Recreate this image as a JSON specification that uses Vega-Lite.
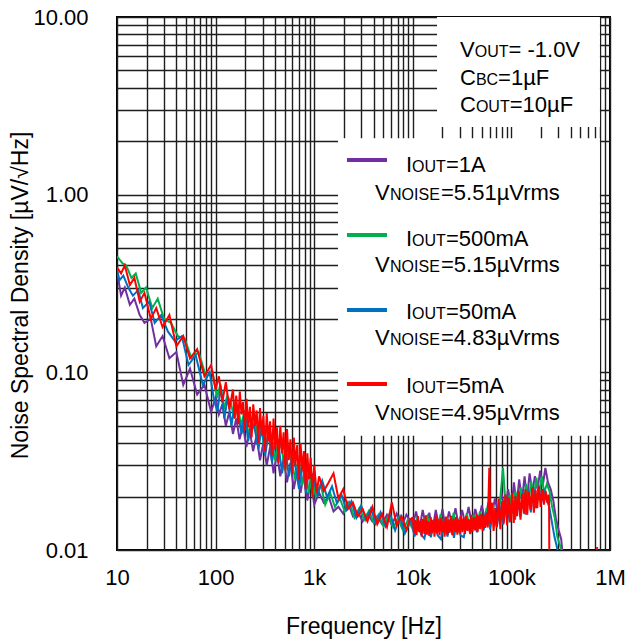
{
"$schema": "https://vega.github.io/schema/vega-lite/v6.json",
"width": 493,
"height": 533,
"autosize": {"type": "none"},
"padding": {"left": 117, "top": 17, "right": 26, "bottom": 91},
"background": "white",
"config": {"font": "Liberation Sans", "view": {"stroke": "#000", "strokeWidth": 2}},
"datasets": {
"curves": [
{"load":"1A","f":10,"v":0.37},{"load":"1A","f":11,"v":0.27},{"load":"1A","f":12,"v":0.30},{"load":"1A","f":13.5,"v":0.24},{"load":"1A","f":15,"v":0.26},{"load":"1A","f":17,"v":0.21},{"load":"1A","f":19,"v":0.19},{"load":"1A","f":22,"v":0.20},{"load":"1A","f":25,"v":0.14},{"load":"1A","f":29,"v":0.16},{"load":"1A","f":34,"v":0.12},{"load":"1A","f":40,"v":0.13},{"load":"1A","f":47,"v":0.085},{"load":"1A","f":55,"v":0.105},{"load":"1A","f":65,"v":0.075},{"load":"1A","f":77,"v":0.085},{"load":"1A","f":90,"v":0.06},
{"load":"1A","f":100,"v":0.072},{"load":"1A","f":108,"v":0.058},{"load":"1A","f":117,"v":0.066},{"load":"1A","f":127,"v":0.05},{"load":"1A","f":138,"v":0.06},{"load":"1A","f":150,"v":0.045},{"load":"1A","f":162,"v":0.055},{"load":"1A","f":175,"v":0.042},{"load":"1A","f":190,"v":0.05},{"load":"1A","f":205,"v":0.038},{"load":"1A","f":222,"v":0.047},{"load":"1A","f":240,"v":0.036},{"load":"1A","f":260,"v":0.044},{"load":"1A","f":282,"v":0.032},{"load":"1A","f":305,"v":0.04},{"load":"1A","f":330,"v":0.03},{"load":"1A","f":357,"v":0.038},{"load":"1A","f":387,"v":0.027},{"load":"1A","f":419,"v":0.035},{"load":"1A","f":453,"v":0.026},{"load":"1A","f":490,"v":0.033},{"load":"1A","f":530,"v":0.024},{"load":"1A","f":574,"v":0.031},{"load":"1A","f":621,"v":0.022},{"load":"1A","f":672,"v":0.028},{"load":"1A","f":727,"v":0.021},{"load":"1A","f":787,"v":0.027},{"load":"1A","f":852,"v":0.019},{"load":"1A","f":922,"v":0.025},
{"load":"1A","f":1000,"v":0.018},{"load":"1A","f":1120,"v":0.021},{"load":"1A","f":1250,"v":0.0185},{"load":"1A","f":1400,"v":0.02},{"load":"1A","f":1570,"v":0.0165},{"load":"1A","f":1760,"v":0.0175},{"load":"1A","f":1970,"v":0.016},{"load":"1A","f":2200,"v":0.0185},{"load":"1A","f":2470,"v":0.0155},{"load":"1A","f":2770,"v":0.0165},{"load":"1A","f":3100,"v":0.0145},{"load":"1A","f":3470,"v":0.016},{"load":"1A","f":3890,"v":0.0145},{"load":"1A","f":4360,"v":0.0155},{"load":"1A","f":4880,"v":0.014},{"load":"1A","f":5470,"v":0.0158},{"load":"1A","f":6130,"v":0.0138},{"load":"1A","f":6860,"v":0.016},{"load":"1A","f":7690,"v":0.0135},{"load":"1A","f":8610,"v":0.0158},
{"load":"1A","f":10000,"v":0.0138},{"load":"1A","f":10800,"v":0.0165},{"load":"1A","f":11700,"v":0.0132},{"load":"1A","f":12600,"v":0.0168},{"load":"1A","f":13600,"v":0.0135},{"load":"1A","f":14700,"v":0.0162},{"load":"1A","f":15800,"v":0.0128},{"load":"1A","f":17100,"v":0.0168},{"load":"1A","f":18500,"v":0.0135},{"load":"1A","f":20000,"v":0.017},{"load":"1A","f":21500,"v":0.0132},{"load":"1A","f":23300,"v":0.0165},{"load":"1A","f":25100,"v":0.0138},{"load":"1A","f":27100,"v":0.0172},{"load":"1A","f":29300,"v":0.0135},{"load":"1A","f":31600,"v":0.0168},{"load":"1A","f":34100,"v":0.014},{"load":"1A","f":36800,"v":0.0175},{"load":"1A","f":39800,"v":0.0138},{"load":"1A","f":43000,"v":0.017},{"load":"1A","f":46400,"v":0.0145},{"load":"1A","f":50100,"v":0.0178},{"load":"1A","f":54100,"v":0.0148},{"load":"1A","f":58400,"v":0.0185},{"load":"1A","f":63100,"v":0.0155},{"load":"1A","f":68100,"v":0.0195},{"load":"1A","f":73600,"v":0.016},{"load":"1A","f":79400,"v":0.021},{"load":"1A","f":85800,"v":0.0165},{"load":"1A","f":92600,"v":0.022},
{"load":"1A","f":100000,"v":0.017},{"load":"1A","f":106000,"v":0.024},{"load":"1A","f":113000,"v":0.018},{"load":"1A","f":120000,"v":0.025},{"load":"1A","f":128000,"v":0.019},{"load":"1A","f":136000,"v":0.026},{"load":"1A","f":144000,"v":0.0195},{"load":"1A","f":153000,"v":0.027},{"load":"1A","f":163000,"v":0.021},{"load":"1A","f":173000,"v":0.026},{"load":"1A","f":184000,"v":0.022},{"load":"1A","f":196000,"v":0.028},{"load":"1A","f":208000,"v":0.023},{"load":"1A","f":221000,"v":0.029},{"load":"1A","f":235000,"v":0.024},{"load":"1A","f":250000,"v":0.022},{"load":"1A","f":266000,"v":0.019},{"load":"1A","f":283000,"v":0.015},{"load":"1A","f":301000,"v":0.013},{"load":"1A","f":320000,"v":0.0115},{"load":"1A","f":340000,"v":0.008},

{"load":"500mA","f":10,"v":0.45},{"load":"500mA","f":11.4,"v":0.41},{"load":"500mA","f":12.4,"v":0.40},{"load":"500mA","f":14,"v":0.34},{"load":"500mA","f":15.5,"v":0.36},{"load":"500mA","f":17.6,"v":0.28},{"load":"500mA","f":19.7,"v":0.30},{"load":"500mA","f":22.8,"v":0.23},{"load":"500mA","f":25.9,"v":0.26},{"load":"500mA","f":30,"v":0.20},{"load":"500mA","f":35.2,"v":0.19},{"load":"500mA","f":41.4,"v":0.16},{"load":"500mA","f":48.6,"v":0.155},{"load":"500mA","f":56.9,"v":0.12},{"load":"500mA","f":67.3,"v":0.13},{"load":"500mA","f":79.7,"v":0.095},{"load":"500mA","f":93.2,"v":0.10},
{"load":"500mA","f":103.5,"v":0.072},{"load":"500mA","f":111.8,"v":0.086},{"load":"500mA","f":121.1,"v":0.062},{"load":"500mA","f":131.4,"v":0.074},{"load":"500mA","f":142.8,"v":0.067},{"load":"500mA","f":155.3,"v":0.055},{"load":"500mA","f":167.7,"v":0.066},{"load":"500mA","f":181.1,"v":0.05},{"load":"500mA","f":196.7,"v":0.061},{"load":"500mA","f":212.2,"v":0.045},{"load":"500mA","f":229.8,"v":0.052},{"load":"500mA","f":248.4,"v":0.056},{"load":"500mA","f":269.1,"v":0.04},{"load":"500mA","f":291.9,"v":0.049},{"load":"500mA","f":315.7,"v":0.035},{"load":"500mA","f":341.6,"v":0.046},{"load":"500mA","f":369.5,"v":0.041},{"load":"500mA","f":400.5,"v":0.032},{"load":"500mA","f":433.7,"v":0.042},{"load":"500mA","f":468.9,"v":0.037},{"load":"500mA","f":507.2,"v":0.028},{"load":"500mA","f":548.6,"v":0.036},{"load":"500mA","f":594.1,"v":0.031},{"load":"500mA","f":642.7,"v":0.025},{"load":"500mA","f":695.5,"v":0.033},{"load":"500mA","f":752.4,"v":0.023},{"load":"500mA","f":814.5,"v":0.029},{"load":"500mA","f":881.8,"v":0.021},{"load":"500mA","f":954.3,"v":0.027},
{"load":"500mA","f":1035,"v":0.02},{"load":"500mA","f":1159,"v":0.0235},{"load":"500mA","f":1294,"v":0.018},{"load":"500mA","f":1449,"v":0.021},{"load":"500mA","f":1625,"v":0.0175},{"load":"500mA","f":1822,"v":0.0195},{"load":"500mA","f":2039,"v":0.0165},{"load":"500mA","f":2277,"v":0.0185},{"load":"500mA","f":2556,"v":0.0152},{"load":"500mA","f":2867,"v":0.0172},{"load":"500mA","f":3209,"v":0.0148},{"load":"500mA","f":3591,"v":0.0166},{"load":"500mA","f":4026,"v":0.0142},{"load":"500mA","f":4513,"v":0.0158},{"load":"500mA","f":5051,"v":0.0136},{"load":"500mA","f":5661,"v":0.0156},{"load":"500mA","f":6345,"v":0.0134},{"load":"500mA","f":7100,"v":0.0152},{"load":"500mA","f":7959,"v":0.0129},{"load":"500mA","f":8911,"v":0.0148},
{"load":"500mA","f":10350,"v":0.0126},{"load":"500mA","f":11180,"v":0.0154},{"load":"500mA","f":12110,"v":0.0124},{"load":"500mA","f":13040,"v":0.0148},{"load":"500mA","f":14080,"v":0.0156},{"load":"500mA","f":15210,"v":0.0121},{"load":"500mA","f":16350,"v":0.0147},{"load":"500mA","f":17700,"v":0.0127},{"load":"500mA","f":19150,"v":0.0159},{"load":"500mA","f":20700,"v":0.0125},{"load":"500mA","f":22250,"v":0.0152},{"load":"500mA","f":24120,"v":0.0131},{"load":"500mA","f":25980,"v":0.0162},{"load":"500mA","f":28050,"v":0.0126},{"load":"500mA","f":30330,"v":0.0154},{"load":"500mA","f":32710,"v":0.0133},{"load":"500mA","f":35290,"v":0.0161},{"load":"500mA","f":38090,"v":0.0129},{"load":"500mA","f":41190,"v":0.0158},{"load":"500mA","f":44510,"v":0.0136},{"load":"500mA","f":48020,"v":0.0165},{"load":"500mA","f":51850,"v":0.0132},{"load":"500mA","f":55990,"v":0.0172},{"load":"500mA","f":60440,"v":0.0139},{"load":"500mA","f":65310,"v":0.0178},{"load":"500mA","f":70480,"v":0.0146},{"load":"500mA","f":76180,"v":0.0182},{"load":"500mA","f":82180,"v":0.029},{"load":"500mA","f":88800,"v":0.0158},{"load":"500mA","f":95840,"v":0.0205},
{"load":"500mA","f":103500,"v":0.016},{"load":"500mA","f":109700,"v":0.0215},{"load":"500mA","f":117000,"v":0.0168},{"load":"500mA","f":124200,"v":0.0225},{"load":"500mA","f":132500,"v":0.0172},{"load":"500mA","f":140800,"v":0.0235},{"load":"500mA","f":149000,"v":0.0182},{"load":"500mA","f":158400,"v":0.0245},{"load":"500mA","f":168700,"v":0.0192},{"load":"500mA","f":179100,"v":0.0255},{"load":"500mA","f":190400,"v":0.0205},{"load":"500mA","f":202900,"v":0.026},{"load":"500mA","f":215300,"v":0.021},{"load":"500mA","f":228700,"v":0.0235},{"load":"500mA","f":243200,"v":0.0215},{"load":"500mA","f":258800,"v":0.0175},{"load":"500mA","f":275300,"v":0.0152},{"load":"500mA","f":292900,"v":0.0118},{"load":"500mA","f":311500,"v":0.0106},{"load":"500mA","f":331200,"v":0.0095},{"load":"500mA","f":345000,"v":0.008},

{"load":"50mA","f":10,"v":0.38},{"load":"50mA","f":10.6,"v":0.33},{"load":"50mA","f":11.6,"v":0.35},{"load":"50mA","f":13,"v":0.30},{"load":"50mA","f":14.5,"v":0.27},{"load":"50mA","f":16.4,"v":0.29},{"load":"50mA","f":18.3,"v":0.23},{"load":"50mA","f":21.2,"v":0.25},{"load":"50mA","f":24.1,"v":0.19},{"load":"50mA","f":28,"v":0.21},{"load":"50mA","f":32.8,"v":0.17},{"load":"50mA","f":38.6,"v":0.15},{"load":"50mA","f":45.4,"v":0.16},{"load":"50mA","f":53.1,"v":0.11},{"load":"50mA","f":62.7,"v":0.125},{"load":"50mA","f":74.3,"v":0.085},{"load":"50mA","f":86.9,"v":0.10},
{"load":"50mA","f":96.5,"v":0.07},{"load":"50mA","f":104.2,"v":0.06},{"load":"50mA","f":112.9,"v":0.083},{"load":"50mA","f":122.6,"v":0.055},{"load":"50mA","f":133.2,"v":0.073},{"load":"50mA","f":144.8,"v":0.05},{"load":"50mA","f":156.3,"v":0.066},{"load":"50mA","f":168.9,"v":0.058},{"load":"50mA","f":183.4,"v":0.045},{"load":"50mA","f":197.8,"v":0.06},{"load":"50mA","f":214.2,"v":0.041},{"load":"50mA","f":231.6,"v":0.054},{"load":"50mA","f":250.9,"v":0.047},{"load":"50mA","f":272.1,"v":0.037},{"load":"50mA","f":294.3,"v":0.05},{"load":"50mA","f":318.5,"v":0.034},{"load":"50mA","f":344.5,"v":0.046},{"load":"50mA","f":373.5,"v":0.031},{"load":"50mA","f":404.3,"v":0.043},{"load":"50mA","f":437.1,"v":0.038},{"load":"50mA","f":472.9,"v":0.027},{"load":"50mA","f":511.5,"v":0.037},{"load":"50mA","f":553.9,"v":0.026},{"load":"50mA","f":599.3,"v":0.034},{"load":"50mA","f":648.5,"v":0.029},{"load":"50mA","f":701.6,"v":0.022},{"load":"50mA","f":759.5,"v":0.031},{"load":"50mA","f":822.2,"v":0.021},{"load":"50mA","f":889.7,"v":0.029},
{"load":"50mA","f":965,"v":0.026},{"load":"50mA","f":1081,"v":0.0205},{"load":"50mA","f":1206,"v":0.0245},{"load":"50mA","f":1351,"v":0.0198},{"load":"50mA","f":1515,"v":0.0228},{"load":"50mA","f":1698,"v":0.0184},{"load":"50mA","f":1901,"v":0.0203},{"load":"50mA","f":2123,"v":0.0168},{"load":"50mA","f":2384,"v":0.0188},{"load":"50mA","f":2673,"v":0.0152},{"load":"50mA","f":2992,"v":0.0178},{"load":"50mA","f":3349,"v":0.0148},{"load":"50mA","f":3754,"v":0.0171},{"load":"50mA","f":4207,"v":0.0141},{"load":"50mA","f":4709,"v":0.0163},{"load":"50mA","f":5279,"v":0.0136},{"load":"50mA","f":5915,"v":0.0159},{"load":"50mA","f":6620,"v":0.0129},{"load":"50mA","f":7421,"v":0.0154},{"load":"50mA","f":8309,"v":0.0124},
{"load":"50mA","f":9650,"v":0.0148},{"load":"50mA","f":10420,"v":0.0119},{"load":"50mA","f":11290,"v":0.0146},{"load":"50mA","f":12160,"v":0.0122},{"load":"50mA","f":13120,"v":0.0116},{"load":"50mA","f":14190,"v":0.0144},{"load":"50mA","f":15250,"v":0.0118},{"load":"50mA","f":16500,"v":0.0147},{"load":"50mA","f":17850,"v":0.0121},{"load":"50mA","f":19300,"v":0.0115},{"load":"50mA","f":20750,"v":0.0146},{"load":"50mA","f":22480,"v":0.0119},{"load":"50mA","f":24220,"v":0.0148},{"load":"50mA","f":26150,"v":0.0117},{"load":"50mA","f":28270,"v":0.0151},{"load":"50mA","f":30490,"v":0.0121},{"load":"50mA","f":32910,"v":0.0118},{"load":"50mA","f":35510,"v":0.0149},{"load":"50mA","f":38410,"v":0.0123},{"load":"50mA","f":41500,"v":0.0153},{"load":"50mA","f":44780,"v":0.0126},{"load":"50mA","f":48350,"v":0.0158},{"load":"50mA","f":52210,"v":0.0129},{"load":"50mA","f":56360,"v":0.0163},{"load":"50mA","f":60890,"v":0.0131},{"load":"50mA","f":65720,"v":0.0168},{"load":"50mA","f":71020,"v":0.0134},{"load":"50mA","f":76620,"v":0.0176},{"load":"50mA","f":82800,"v":0.0139},{"load":"50mA","f":89360,"v":0.0184},
{"load":"50mA","f":96500,"v":0.0143},{"load":"50mA","f":102300,"v":0.0192},{"load":"50mA","f":109000,"v":0.0148},{"load":"50mA","f":115800,"v":0.0201},{"load":"50mA","f":123500,"v":0.0153},{"load":"50mA","f":131200,"v":0.0212},{"load":"50mA","f":139000,"v":0.0158},{"load":"50mA","f":147600,"v":0.0218},{"load":"50mA","f":157300,"v":0.0163},{"load":"50mA","f":166900,"v":0.0226},{"load":"50mA","f":177600,"v":0.0172},{"load":"50mA","f":189100,"v":0.023},{"load":"50mA","f":200700,"v":0.0185},{"load":"50mA","f":213300,"v":0.0215},{"load":"50mA","f":226800,"v":0.0192},{"load":"50mA","f":241300,"v":0.0176},{"load":"50mA","f":256700,"v":0.0145},{"load":"50mA","f":273100,"v":0.0119},{"load":"50mA","f":290500,"v":0.0103},{"load":"50mA","f":308800,"v":0.0088},{"load":"50mA","f":328100,"v":0.007},

{"load":"5mA","f":10,"v":0.39},{"load":"5mA","f":11,"v":0.36},{"load":"5mA","f":12,"v":0.40},{"load":"5mA","f":13.5,"v":0.31},{"load":"5mA","f":15,"v":0.34},{"load":"5mA","f":17,"v":0.25},{"load":"5mA","f":19,"v":0.28},{"load":"5mA","f":22,"v":0.20},{"load":"5mA","f":25,"v":0.23},{"load":"5mA","f":29,"v":0.18},{"load":"5mA","f":34,"v":0.21},{"load":"5mA","f":40,"v":0.14},{"load":"5mA","f":47,"v":0.16},{"load":"5mA","f":55,"v":0.12},{"load":"5mA","f":65,"v":0.135},{"load":"5mA","f":77,"v":0.095},{"load":"5mA","f":90,"v":0.11},
{"load":"5mA","f":100,"v":0.08},{"load":"5mA","f":108,"v":0.095},{"load":"5mA","f":117,"v":0.068},{"load":"5mA","f":127,"v":0.088},{"load":"5mA","f":138,"v":0.062},
{"load":"5mA","f":150,"v":0.08},{"load":"5mA","f":156,"v":0.055},{"load":"5mA","f":162,"v":0.074},{"load":"5mA","f":169,"v":0.051},{"load":"5mA","f":176,"v":0.078},{"load":"5mA","f":183,"v":0.058},{"load":"5mA","f":190,"v":0.068},{"load":"5mA","f":198,"v":0.047},{"load":"5mA","f":206,"v":0.071},{"load":"5mA","f":214,"v":0.049},{"load":"5mA","f":223,"v":0.064},{"load":"5mA","f":232,"v":0.043},{"load":"5mA","f":241,"v":0.066},{"load":"5mA","f":251,"v":0.05},{"load":"5mA","f":261,"v":0.061},{"load":"5mA","f":271,"v":0.04},{"load":"5mA","f":282,"v":0.063},{"load":"5mA","f":294,"v":0.044},{"load":"5mA","f":305,"v":0.057},{"load":"5mA","f":318,"v":0.036},{"load":"5mA","f":330,"v":0.059},{"load":"5mA","f":344,"v":0.041},{"load":"5mA","f":357,"v":0.053},{"load":"5mA","f":372,"v":0.034},{"load":"5mA","f":387,"v":0.055},{"load":"5mA","f":402,"v":0.037},{"load":"5mA","f":419,"v":0.049},{"load":"5mA","f":435,"v":0.031},{"load":"5mA","f":453,"v":0.05},{"load":"5mA","f":471,"v":0.035},{"load":"5mA","f":490,"v":0.046},{"load":"5mA","f":510,"v":0.028},{"load":"5mA","f":530,"v":0.048},{"load":"5mA","f":551,"v":0.032},{"load":"5mA","f":574,"v":0.042},{"load":"5mA","f":597,"v":0.027},{"load":"5mA","f":621,"v":0.043},{"load":"5mA","f":645,"v":0.03},{"load":"5mA","f":672,"v":0.039},{"load":"5mA","f":698,"v":0.025},{"load":"5mA","f":727,"v":0.04},{"load":"5mA","f":756,"v":0.028},{"load":"5mA","f":787,"v":0.036},{"load":"5mA","f":818,"v":0.022},{"load":"5mA","f":852,"v":0.035},{"load":"5mA","f":885,"v":0.025},{"load":"5mA","f":922,"v":0.033},{"load":"5mA","f":958,"v":0.02},
{"load":"5mA","f":1000,"v":0.03},{"load":"5mA","f":1060,"v":0.021},{"load":"5mA","f":1120,"v":0.026},{"load":"5mA","f":1250,"v":0.0215},{"load":"5mA","f":1400,"v":0.024},{"load":"5mA","f":1570,"v":0.027},{"load":"5mA","f":1760,"v":0.0195},{"load":"5mA","f":1970,"v":0.022},{"load":"5mA","f":2200,"v":0.017},{"load":"5mA","f":2470,"v":0.0185},{"load":"5mA","f":2770,"v":0.0155},{"load":"5mA","f":3100,"v":0.017},{"load":"5mA","f":3470,"v":0.0145},{"load":"5mA","f":3890,"v":0.0175},{"load":"5mA","f":4360,"v":0.014},{"load":"5mA","f":4880,"v":0.016},{"load":"5mA","f":5470,"v":0.0135},{"load":"5mA","f":6130,"v":0.0185},{"load":"5mA","f":6860,"v":0.0138},{"load":"5mA","f":7690,"v":0.0155},{"load":"5mA","f":8610,"v":0.013},{"load":"5mA","f":9300,"v":0.0148},
{"load":"5mA","f":10000,"v":0.0152},{"load":"5mA","f":10300,"v":0.0124},{"load":"5mA","f":10600,"v":0.0148},{"load":"5mA","f":10900,"v":0.0121},{"load":"5mA","f":11300,"v":0.0155},{"load":"5mA","f":11600,"v":0.0126},{"load":"5mA","f":12000,"v":0.0146},{"load":"5mA","f":12300,"v":0.0119},{"load":"5mA","f":12700,"v":0.015},{"load":"5mA","f":13100,"v":0.0123},{"load":"5mA","f":13500,"v":0.0157},{"load":"5mA","f":13900,"v":0.0122},{"load":"5mA","f":14300,"v":0.0145},{"load":"5mA","f":14700,"v":0.012},{"load":"5mA","f":15200,"v":0.0153},{"load":"5mA","f":15600,"v":0.0125},{"load":"5mA","f":16100,"v":0.0148},{"load":"5mA","f":16600,"v":0.0119},{"load":"5mA","f":17100,"v":0.0156},{"load":"5mA","f":17600,"v":0.0124},{"load":"5mA","f":18100,"v":0.0149},{"load":"5mA","f":18700,"v":0.0121},{"load":"5mA","f":19200,"v":0.0152},{"load":"5mA","f":19800,"v":0.0126},{"load":"5mA","f":20400,"v":0.0147},{"load":"5mA","f":21000,"v":0.0119},{"load":"5mA","f":21700,"v":0.0154},{"load":"5mA","f":22300,"v":0.0122},{"load":"5mA","f":23000,"v":0.0149},{"load":"5mA","f":23700,"v":0.0125},{"load":"5mA","f":24400,"v":0.0156},{"load":"5mA","f":25100,"v":0.0121},{"load":"5mA","f":25900,"v":0.015},{"load":"5mA","f":26700,"v":0.0127},{"load":"5mA","f":27500,"v":0.0153},{"load":"5mA","f":28300,"v":0.0122},{"load":"5mA","f":29100,"v":0.0148},{"load":"5mA","f":30000,"v":0.0124},{"load":"5mA","f":30900,"v":0.0157},{"load":"5mA","f":31800,"v":0.0126},{"load":"5mA","f":32800,"v":0.0151},{"load":"5mA","f":33800,"v":0.0123},{"load":"5mA","f":34800,"v":0.0155},{"load":"5mA","f":35800,"v":0.0128},{"load":"5mA","f":36900,"v":0.0149},{"load":"5mA","f":38000,"v":0.0124},{"load":"5mA","f":39100,"v":0.0158},{"load":"5mA","f":40300,"v":0.0127},{"load":"5mA","f":41500,"v":0.0152},{"load":"5mA","f":42800,"v":0.0129},{"load":"5mA","f":44100,"v":0.0159},{"load":"5mA","f":45400,"v":0.0126},{"load":"5mA","f":46800,"v":0.0155},{"load":"5mA","f":48200,"v":0.0131},{"load":"5mA","f":49600,"v":0.016},{"load":"5mA","f":51100,"v":0.0128},{"load":"5mA","f":52600,"v":0.0157},{"load":"5mA","f":54200,"v":0.0133},{"load":"5mA","f":55800,"v":0.0162},{"load":"5mA","f":57500,"v":0.0134},{"load":"5mA","f":59700,"v":0.029},
{"load":"5mA","f":61000,"v":0.014},{"load":"5mA","f":63400,"v":0.0185},{"load":"5mA","f":66000,"v":0.0128},{"load":"5mA","f":68600,"v":0.0172},{"load":"5mA","f":71400,"v":0.0135},{"load":"5mA","f":74200,"v":0.0195},{"load":"5mA","f":77200,"v":0.0131},{"load":"5mA","f":80300,"v":0.0188},{"load":"5mA","f":83500,"v":0.0142},{"load":"5mA","f":86800,"v":0.0205},{"load":"5mA","f":90300,"v":0.0138},{"load":"5mA","f":93900,"v":0.0198},{"load":"5mA","f":97700,"v":0.0145},{"load":"5mA","f":101600,"v":0.021},{"load":"5mA","f":105600,"v":0.0142},{"load":"5mA","f":109900,"v":0.0202},{"load":"5mA","f":114300,"v":0.0155},{"load":"5mA","f":118800,"v":0.0215},{"load":"5mA","f":123600,"v":0.0148},{"load":"5mA","f":128500,"v":0.0208},{"load":"5mA","f":133700,"v":0.016},{"load":"5mA","f":139000,"v":0.022},{"load":"5mA","f":144600,"v":0.0158},{"load":"5mA","f":150400,"v":0.0212},{"load":"5mA","f":156400,"v":0.0168},{"load":"5mA","f":162600,"v":0.0225},{"load":"5mA","f":169100,"v":0.0162},{"load":"5mA","f":175900,"v":0.0218},{"load":"5mA","f":182900,"v":0.0172},{"load":"5mA","f":190200,"v":0.0228},{"load":"5mA","f":197800,"v":0.0175},{"load":"5mA","f":205700,"v":0.022},{"load":"5mA","f":214000,"v":0.018},{"load":"5mA","f":222500,"v":0.0215},{"load":"5mA","f":231400,"v":0.0185},{"load":"5mA","f":238000,"v":0.0205},{"load":"5mA","f":241000,"v":0.019},{"load":"5mA","f":243000,"v":0.007},{"load":"5mA","f":735000,"v":0.007},{"load":"5mA","f":740000,"v":0.0104},{"load":"5mA","f":745000,"v":0.007}
],
"boxes": [
{"f":17600,"f2":790000,"v":2.40,"v2":10},
{"f":1743,"f2":790000,"v":0.0439,"v2":2.08}
],
"swatches": [
{"load":"1A","f":2151,"f2":5474,"v":1.568},
{"load":"500mA","f":2151,"f2":5474,"v":0.5933},
{"load":"50mA","f":2151,"f2":5474,"v":0.2245},
{"load":"5mA","f":2151,"f2":5474,"v":0.086}
],
"mainText": [
{"t":"V","f":30110,"v":5.955},{"t":"= -1.0V","f":93460,"v":5.955},
{"t":"C","f":30110,"v":4.142},{"t":"=1µF","f":73300,"v":4.142},
{"t":"C","f":30110,"v":2.921},{"t":"=10µF","f":96120,"v":2.921},
{"t":"I","f":8531,"v":1.342},{"t":"=1A","f":21660,"v":1.342},
{"t":"V","f":4137,"v":0.9337},{"t":"=5.51µVrms","f":19320,"v":0.9337},
{"t":"I","f":8531,"v":0.5144},{"t":"=500mA","f":21660,"v":0.5144},
{"t":"V","f":4137,"v":0.3673},{"t":"=5.15µVrms","f":19320,"v":0.3673},
{"t":"I","f":8531,"v":0.1998},{"t":"=50mA","f":21660,"v":0.1998},
{"t":"V","f":4137,"v":0.1426},{"t":"=4.83µVrms","f":19320,"v":0.1426},
{"t":"I","f":8531,"v":0.07657},{"t":"=5mA","f":21660,"v":0.07657},
{"t":"V","f":4137,"v":0.05397},{"t":"=4.95µVrms","f":19320,"v":0.05397}
],
"subText": [
{"t":"OUT","f":42440,"v":5.955},
{"t":"BC","f":43650,"v":4.142},
{"t":"OUT","f":43650,"v":2.921},
{"t":"OUT","f":9838,"v":1.342},
{"t":"NOISE","f":5874,"v":0.9337},
{"t":"OUT","f":9838,"v":0.5144},
{"t":"NOISE","f":5874,"v":0.3673},
{"t":"OUT","f":9838,"v":0.1998},
{"t":"NOISE","f":5874,"v":0.1426},
{"t":"OUT","f":9838,"v":0.07657},
{"t":"NOISE","f":5874,"v":0.05397}
]
},
"layer": [
{
"data": {"name": "curves"},
"mark": {"type": "line", "strokeWidth": 2, "clip": true},
"encoding": {
"x": {"field": "f", "type": "quantitative",
 "scale": {"type": "log", "domain": [10, 1000000], "nice": false},
 "axis": {"orient": "bottom", "values": [10,20,30,40,50,60,70,80,90,100,200,300,400,500,600,700,800,900,1000,2000,3000,4000,5000,6000,7000,8000,9000,10000,20000,30000,40000,50000,60000,70000,80000,90000,100000,200000,300000,400000,500000,600000,700000,800000,900000,1000000],
  "labelExpr": "datum.value==10?'10':datum.value==100?'100':datum.value==1000?'1k':datum.value==10000?'10k':datum.value==100000?'100k':datum.value==1000000?'1M':''",
  "grid": true, "gridColor": "#1e1e1e", "gridWidth": 1.4, "ticks": false, "tickSize": 0, "domain": false,
  "labelFontSize": 22, "labelColor": "#000", "labelPadding": 17, "labelFlush": false, "labelOverlap": false, "labelBound": false,
  "title": "Frequency [Hz]", "titleFontSize": 23, "titleFontWeight": "normal", "titleColor": "#000", "titleY": 83, "titleBaseline": "alphabetic"}},
"y": {"field": "v", "type": "quantitative",
 "scale": {"type": "log", "domain": [0.01, 10], "nice": false},
 "axis": {"orient": "left", "values": [0.01,0.02,0.03,0.04,0.05,0.06,0.07,0.08,0.09,0.1,0.2,0.3,0.4,0.5,0.6,0.7,0.8,0.9,1,2,3,4,5,6,7,8,9,10],
  "labelExpr": "datum.value==0.01?'0.01':datum.value==0.1?'0.10':datum.value==1?'1.00':datum.value==10?'10.00':''",
  "grid": true, "gridColor": "#1e1e1e", "gridWidth": 1.4, "ticks": false, "tickSize": 0, "domain": false,
  "labelFontSize": 22, "labelColor": "#000", "labelPadding": 29, "labelFlush": false, "labelOverlap": false, "labelBound": false,
  "title": "Noise Spectral Density [µV/√Hz]", "titleFontSize": 23, "titleFontWeight": "normal", "titleColor": "#000",
  "titleAngle": 270, "titleX": -90, "titleY": 278, "titleAlign": "center", "titleBaseline": "alphabetic"}},
"color": {"field": "load", "type": "nominal",
 "scale": {"domain": ["1A","500mA","50mA","5mA"], "range": ["#7030A0","#00B050","#0070C0","#FF0000"]},
 "legend": null}
}
},
{
"data": {"name": "boxes"},
"mark": {"type": "rect", "fill": "white", "stroke": null},
"encoding": {
"x": {"field": "f", "type": "quantitative"},
"x2": {"field": "f2"},
"y": {"field": "v", "type": "quantitative"},
"y2": {"field": "v2"}
}
},
{
"data": {"name": "swatches"},
"mark": {"type": "rule", "strokeWidth": 4},
"encoding": {
"x": {"field": "f", "type": "quantitative"},
"x2": {"field": "f2"},
"y": {"field": "v", "type": "quantitative"},
"color": {"field": "load", "type": "nominal", "legend": null}
}
},
{
"data": {"name": "mainText"},
"mark": {"type": "text", "fontSize": 22, "align": "left", "baseline": "alphabetic", "color": "#000"},
"encoding": {
"x": {"field": "f", "type": "quantitative"},
"y": {"field": "v", "type": "quantitative"},
"text": {"field": "t"}
}
},
{
"data": {"name": "subText"},
"mark": {"type": "text", "fontSize": 16, "align": "left", "baseline": "alphabetic", "color": "#000"},
"encoding": {
"x": {"field": "f", "type": "quantitative"},
"y": {"field": "v", "type": "quantitative"},
"text": {"field": "t"}
}
}
]
}
